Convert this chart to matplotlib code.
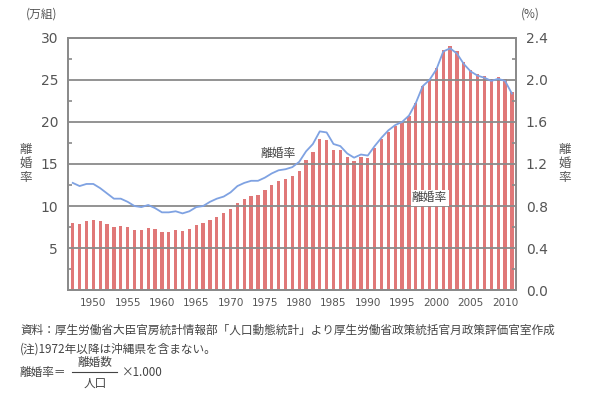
import matplotlib.pyplot as plt
import numpy as np

plt.rcParams['font.family'] = ['Noto Sans CJK JP', 'DejaVu Sans']

# 年
years = list(range(1947, 2012))

# 離婚件数 (万組)
divorces = [7.96, 7.90, 8.26, 8.37, 8.23, 7.90, 7.53, 7.68, 7.53, 7.20,
            7.17, 7.40, 7.25, 6.94, 6.93, 7.14, 7.00, 7.23, 7.72, 7.94,
            8.35, 8.73, 9.13, 9.59, 10.36, 10.84, 11.19, 11.36, 11.91, 12.45,
            12.95, 13.21, 13.53, 14.17, 15.42, 16.40, 17.92, 17.87, 16.66, 16.61,
            15.82, 15.36, 15.78, 15.76, 16.90, 17.92, 18.83, 19.51, 19.90, 20.70,
            22.26, 24.32, 25.05, 26.42, 28.59, 28.98, 28.39, 27.08, 26.19, 25.75,
            25.48, 25.11, 25.34, 25.14, 23.57]

# 離婚率 (%)
rate = [1.02, 0.99, 1.01, 1.01, 0.97, 0.92, 0.87, 0.87, 0.84, 0.80,
        0.79, 0.81, 0.78, 0.74, 0.74, 0.75, 0.73, 0.75, 0.79, 0.80,
        0.84, 0.87, 0.89, 0.93, 0.99, 1.02, 1.04, 1.04, 1.07, 1.11,
        1.14, 1.15, 1.17, 1.22, 1.32, 1.39, 1.51, 1.50, 1.39, 1.37,
        1.30, 1.26, 1.29, 1.28, 1.37, 1.45, 1.52, 1.57, 1.60, 1.66,
        1.78, 1.94, 2.00, 2.10, 2.27, 2.30, 2.25, 2.15, 2.08, 2.04,
        2.02, 1.99, 2.01, 1.99, 1.87]

xticks = list(range(1950, 2011, 5))
left_ticks = [5, 10, 15, 20, 25, 30]
right_ticks = [0.0, 0.4, 0.8, 1.2, 1.6, 2.0, 2.4]

text_col = "#555555"
grid_col = "#8a8a8a"

fig = plt.figure(figsize=(6, 3.98), dpi=100)
ax = fig.add_axes([0.113, 0.271, 0.747, 0.634])
ax2 = ax.twinx()

ax.bar(years, divorces, width=0.48, color="#e07878", zorder=2)
for v in left_ticks:
    ax.axhline(v, color=grid_col, lw=1.3, zorder=3)

ax.set_xlim(1946.28, 2011.6)
ax.set_ylim(0, 30)
ax.set_yticks(left_ticks)
ax.set_yticks(np.arange(2.5, 30, 5), minor=True)
ax.set_xticks(xticks)
ax.tick_params(axis="y", which="major", length=0, labelsize=10,
               labelcolor=text_col, pad=7)
ax.tick_params(axis="y", which="minor", direction="in", length=3,
               color=grid_col, width=1.2)
ax.tick_params(axis="x", length=0, labelsize=7.5, labelcolor=text_col, pad=6)
for lab in ax.get_yticklabels() + ax.get_xticklabels():
    lab.set_family("DejaVu Sans")

ax2.plot(years, rate, color="#7fa2e2", lw=1.3, zorder=5)
ax2.set_ylim(0, 2.4)
ax2.set_yticks(right_ticks)
ax2.set_yticklabels([f"{v:.1f}" for v in right_ticks])
ax2.set_yticks(np.arange(0.2, 2.4, 0.4), minor=True)
ax2.tick_params(axis="y", which="major", length=0, labelsize=10,
                labelcolor=text_col, pad=7)
ax2.tick_params(axis="y", which="minor", direction="in", length=3,
                color=grid_col, width=1.2)
for lab in ax2.get_yticklabels():
    lab.set_family("DejaVu Sans")

for a in (ax, ax2):
    for s in a.spines.values():
        s.set_color(grid_col)
        s.set_linewidth(1.3)

# 図中ラベル
ax.text(1977.0, 16.3, "離婚率", fontsize=8.5, color="#444444", ha="center",
        va="center", zorder=6,
        bbox=dict(facecolor="white", edgecolor="none", pad=1))
ax.text(1999.0, 11.0, "離婚率", fontsize=8.5, color="#444444", ha="center",
        va="center", zorder=6,
        bbox=dict(facecolor="white", edgecolor="none", pad=1))

# 軸ラベル
fig.text(42 / 600, 1 - 14 / 398, "(万組)", fontsize=8.5, color=text_col,
         ha="center", va="center")
fig.text(530 / 600, 1 - 14 / 398, "(%)", fontsize=8.5, color=text_col,
         ha="center", va="center")
fig.text(26 / 600, 1 - 163 / 398, "離\n婚\n率", fontsize=9, color=text_col,
         ha="center", va="center", linespacing=1.1)
fig.text(565 / 600, 1 - 163 / 398, "離\n婚\n率", fontsize=9, color=text_col,
         ha="center", va="center", linespacing=1.1)

# 注記
note_col = "#444444"
fs = 8.4
fig.text(20 / 600, 1 - 330 / 398,
         "資料：厚生労働省大臣官房統計情報部「人口動態統計」より厚生労働省政策統括官月政策評価官室作成",
         fontsize=fs, color=note_col, ha="left", va="center")
fig.text(20 / 600, 1 - 349 / 398, "(注)1972年以降は沖縄県を含まない。",
         fontsize=fs, color=note_col, ha="left", va="center")
fig.text(20 / 600, 1 - 372 / 398, "離婚率＝", fontsize=fs, color=note_col,
         ha="left", va="center")
fig.text(95 / 600, 1 - 362 / 398, "離婚数", fontsize=fs, color=note_col,
         ha="center", va="center")
fig.text(95 / 600, 1 - 383 / 398, "人口", fontsize=fs, color=note_col,
         ha="center", va="center")
fig.add_artist(plt.Line2D([72 / 600, 117 / 600], [1 - 372 / 398, 1 - 372 / 398],
                          color=note_col, lw=0.8))
fig.text(122 / 600, 1 - 372 / 398, "×1.000", fontsize=fs, color=note_col,
         ha="left", va="center")

fig.savefig("out.png", dpi=100, facecolor="white")
